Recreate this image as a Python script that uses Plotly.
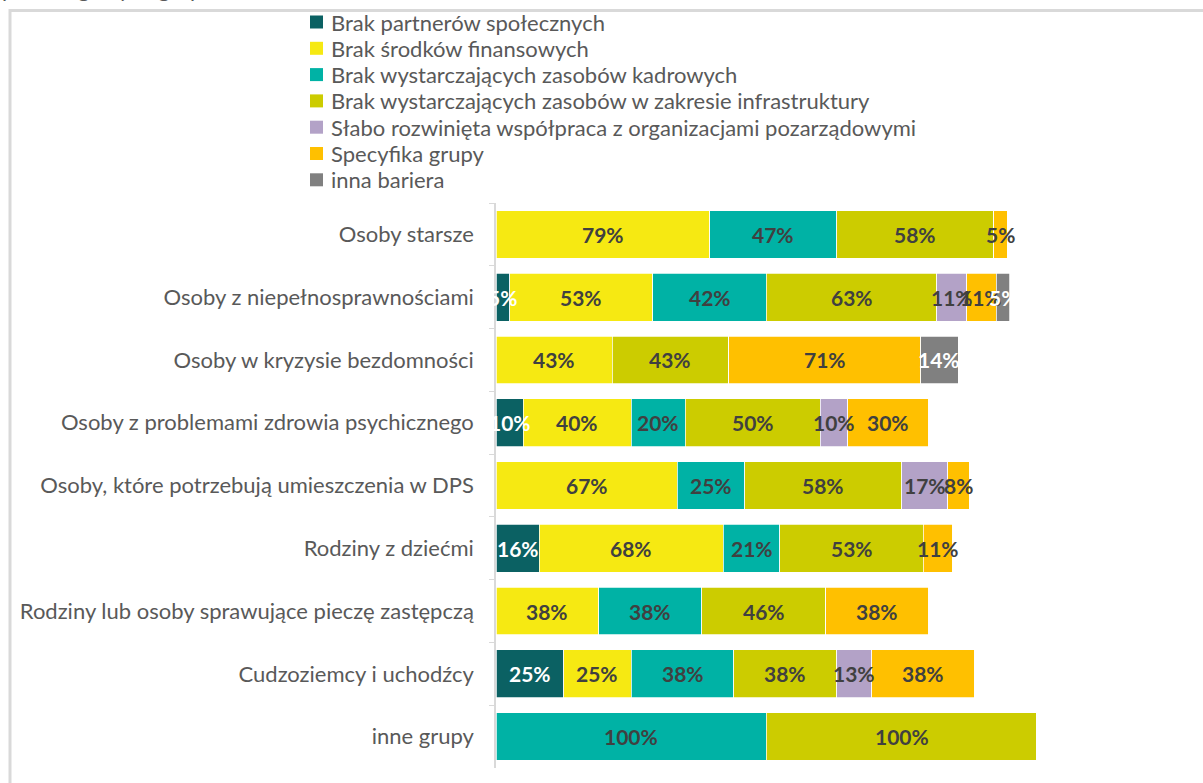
import plotly.graph_objects as go

# Target groups (top to bottom)
groups = [
    "Osoby starsze",
    "Osoby z niepełnosprawnościami",
    "Osoby w kryzysie bezdomności",
    "Osoby z problemami zdrowia psychicznego",
    "Osoby, które potrzebują umieszczenia w DPS",
    "Rodziny z dziećmi",
    "Rodziny lub osoby sprawujące pieczę zastępczą",
    "Cudzoziemcy i uchodźcy",
    "inne grupy",
]

# Barrier categories (legend order)
barriers = [
    "Brak partnerów społecznych",
    "Brak środków finansowych",
    "Brak wystarczających zasobów kadrowych",
    "Brak wystarczających zasobów w zakresie infrastruktury",
    "Słabo rozwinięta współpraca z organizacjami pozarządowymi",
    "Specyfika grupy",
    "inna bariera",
]

# Percent of answers per group, one list per barrier
partnerzy = [0, 5, 0, 10, 0, 16, 0, 25, 0]
finanse = [79, 53, 43, 40, 67, 68, 38, 25, 0]
kadry = [47, 42, 0, 20, 25, 21, 38, 38, 100]
infrastruktura = [58, 63, 43, 50, 58, 53, 46, 38, 100]
wspolpraca_ngo = [0, 11, 0, 10, 17, 0, 0, 13, 0]
specyfika = [5, 11, 71, 30, 8, 11, 38, 38, 0]
inna = [0, 5, 14, 0, 0, 0, 0, 0, 0]

series = [partnerzy, finanse, kadry, infrastruktura, wspolpraca_ngo, specyfika, inna]
colors = ["#0B6163", "#F6E912", "#00B2A5", "#CCCC00", "#B3A2C7", "#FFC000", "#808080"]
label_colors = ["#FFFFFF", "#404040", "#404040", "#404040", "#404040", "#404040", "#FFFFFF"]

FONT = "Lato"
TEXT_GREY = "#595959"
FRAME_GREY = "#D9D9D9"

W, H = 1203, 783
M_L, M_R, M_T, M_B = 496, 31, 203, 15
PW, PH = W - M_L - M_R, H - M_T - M_B


def px_x(px):
    """Pixel column -> paper x."""
    return (px - M_L) / PW


def px_y(py):
    """Pixel row (from top) -> paper y."""
    return 1 + (M_T - py) / PH


fig = go.Figure()
for name, vals, col in zip(barriers, series, colors):
    fig.add_trace(go.Bar(
        name=name,
        y=groups,
        x=vals,
        orientation="h",
        marker=dict(color=col, line=dict(color="#FFFFFF", width=0.75)),
        hoverinfo="skip",
        showlegend=False,
    ))

annotations = []
shapes = []

# Value labels centred in each segment
for gi, g in enumerate(groups):
    start = 0
    for vals, lc in zip(series, label_colors):
        v = vals[gi]
        if v:
            annotations.append(dict(
                x=start + v / 2, y=g, xref="x", yref="y",
                text=f"<b>{v}%</b>", showarrow=False,
                font=dict(family=FONT, size=21, color=lc),
            ))
        start += v

# Legend block: square swatch + label, stacked above the plot
LEG_SWATCH_X, LEG_SWATCH = 310, 13
LEG_TEXT_X = 329
LEG_Y0, LEG_STEP = 22, 26.3
for i, (name, col) in enumerate(zip(barriers, colors)):
    cy = LEG_Y0 + i * LEG_STEP
    shapes.append(dict(
        type="rect", xref="paper", yref="paper",
        x0=px_x(LEG_SWATCH_X), x1=px_x(LEG_SWATCH_X + LEG_SWATCH),
        y0=px_y(cy + LEG_SWATCH / 2), y1=px_y(cy - LEG_SWATCH / 2),
        fillcolor=col, line=dict(width=0),
    ))
    annotations.append(dict(
        x=px_x(LEG_TEXT_X), y=px_y(cy), xref="paper", yref="paper",
        xanchor="left", yanchor="middle", text=name, showarrow=False,
        font=dict(family=FONT, size=22, color=TEXT_GREY),
    ))

# Chart title, mostly above the visible area
annotations.append(dict(
    x=px_x(0), y=px_y(4), xref="paper", yref="paper",
    xanchor="left", yanchor="bottom",
    text="poszczególnych grup odbiorców", showarrow=False,
    font=dict(family=FONT, size=22, color=TEXT_GREY),
))

# Chart-area frame
shapes.append(dict(
    type="rect", xref="paper", yref="paper",
    x0=px_x(10), x1=px_x(W + 20), y0=px_y(H + 20), y1=px_y(10.5),
    line=dict(color=FRAME_GREY, width=3),
))

fig.update_layout(
    barmode="stack",
    bargap=0.24,
    width=W,
    height=H,
    margin=dict(l=M_L, r=M_R, t=M_T, b=M_B),
    paper_bgcolor="#FFFFFF",
    plot_bgcolor="#FFFFFF",
    font=dict(family=FONT, size=22, color=TEXT_GREY),
    showlegend=False,
    xaxis=dict(range=[0, 250], visible=False, fixedrange=True),
    yaxis=dict(
        categoryorder="array",
        categoryarray=groups,
        autorange="reversed",
        showline=True,
        linecolor=FRAME_GREY,
        linewidth=1.5,
        ticks="outside",
        tickson="boundaries",
        ticklen=5,
        tickcolor=FRAME_GREY,
        ticklabelstandoff=16,
        showgrid=False,
        tickfont=dict(family=FONT, size=22, color=TEXT_GREY),
    ),
    annotations=annotations,
    shapes=shapes,
)

fig.write_html("out.html")
